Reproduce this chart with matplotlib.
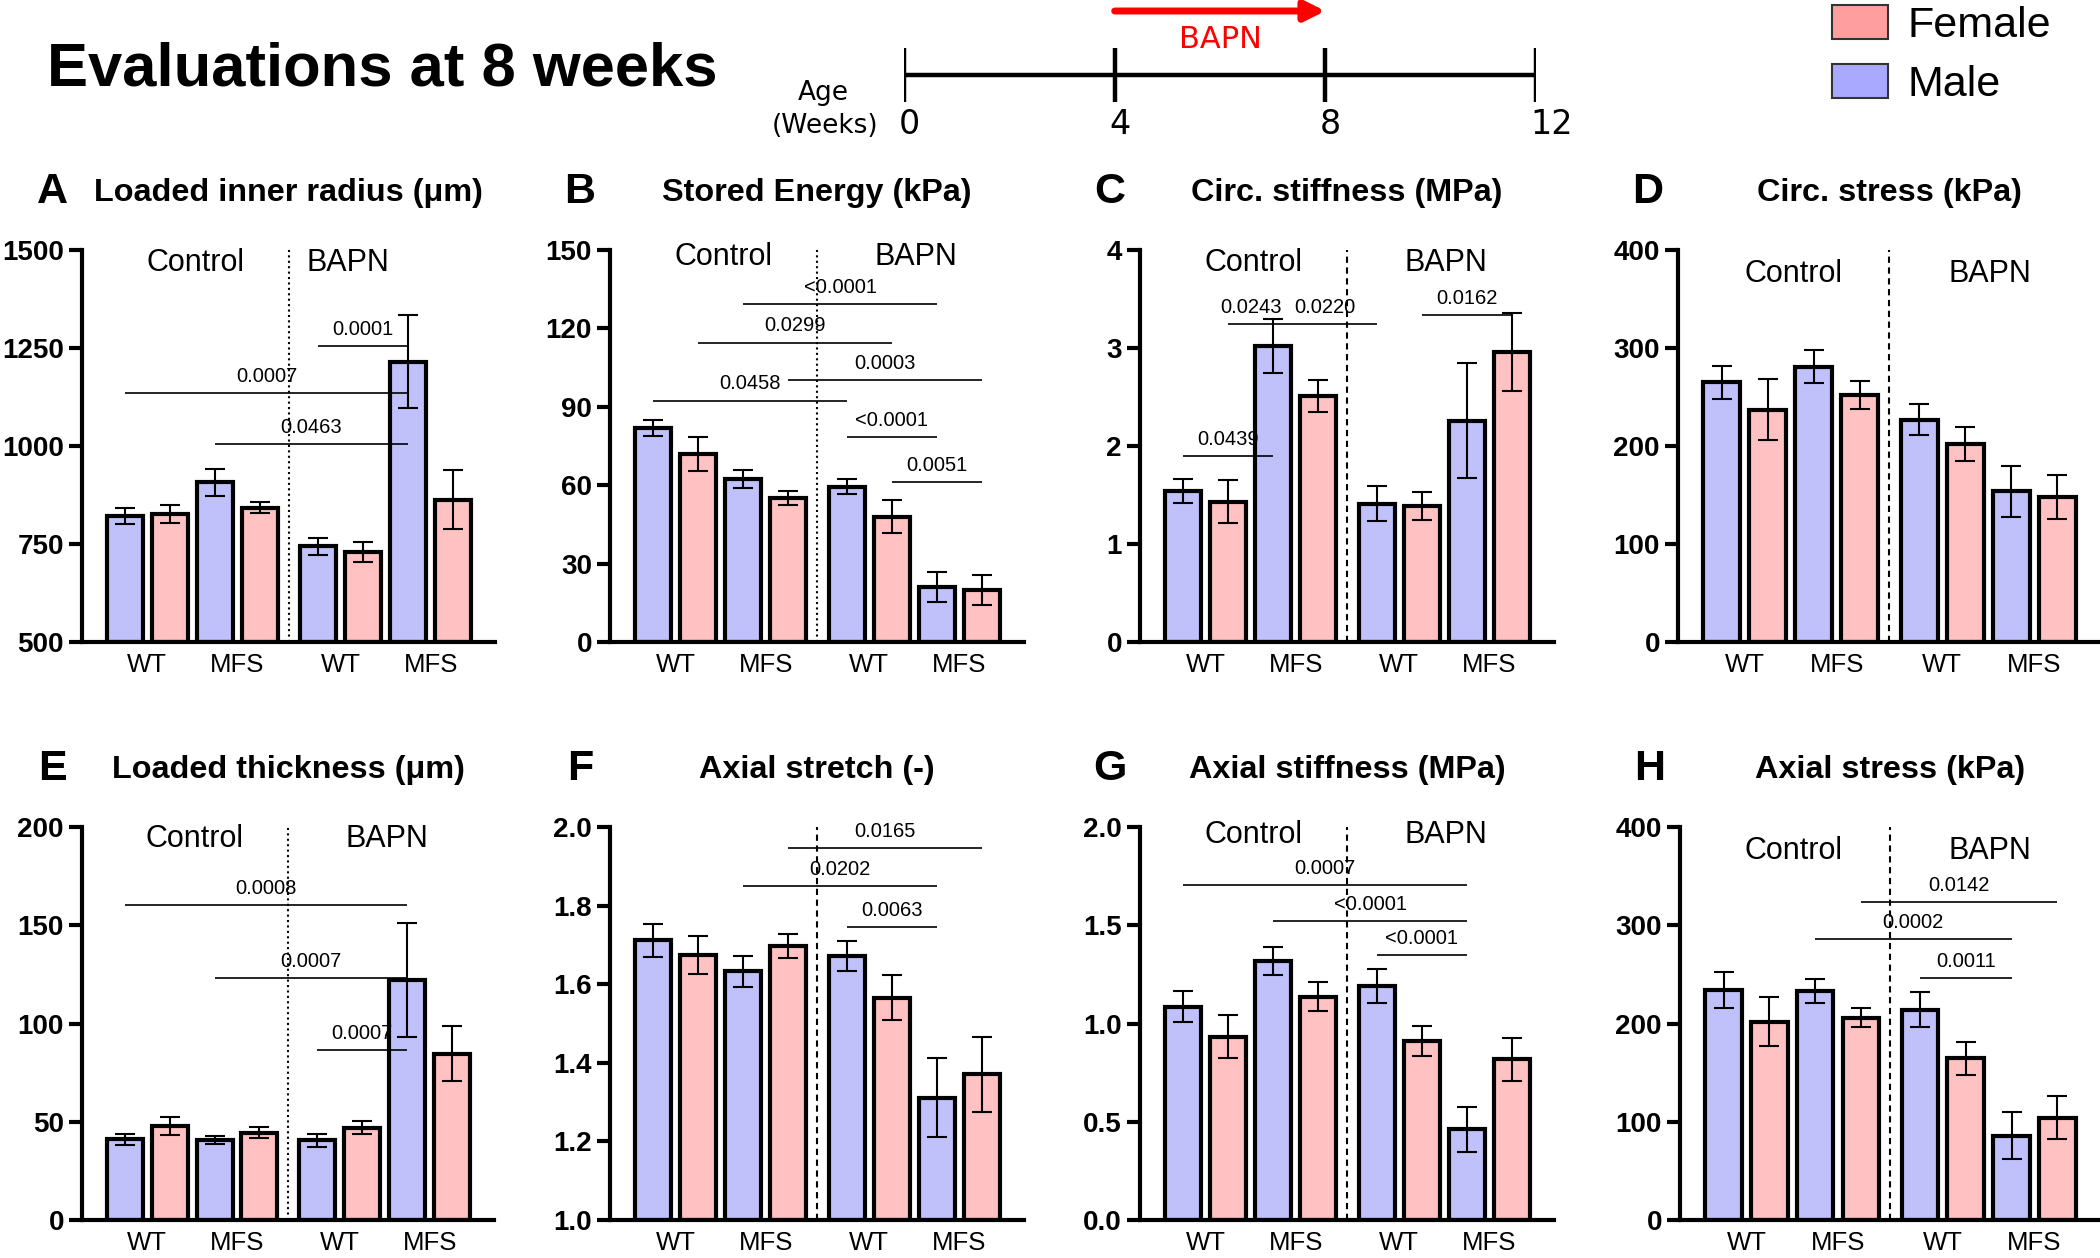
import numpy as np
import matplotlib
matplotlib.use('Agg')
import matplotlib.pyplot as plt
from matplotlib.patches import Patch
from matplotlib.ticker import FormatStrFormatter

plt.rcParams['font.family'] = ['Liberation Sans', 'DejaVu Sans']

# ---------------- data ----------------
bar_sex = ['Male', 'Female', 'Male', 'Female', 'Male', 'Female', 'Male', 'Female']
bar_genotype = ['WT', 'WT', 'MFS', 'MFS', 'WT', 'WT', 'MFS', 'MFS']
bar_treatment = ['Control'] * 4 + ['BAPN'] * 4
group_labels = ['WT', 'MFS', 'WT', 'MFS']
treatment_labels = ['Control', 'BAPN']

inner_radius_mean = [822, 826, 907, 843, 744, 729, 1215, 863]
inner_radius_sem = [20, 23, 35, 15, 22, 25, 118, 75]
inner_radius_sig = [(4, 6, 1254, '0.0001'), (0, 6, 1136, '0.0007'), (2, 6, 1006, '0.0463')]

stored_energy_mean = [82, 72, 62.5, 55, 59.5, 48, 21, 20]
stored_energy_sem = [3, 6.5, 3.5, 2.7, 2.7, 6.3, 5.8, 5.7]
stored_energy_sig = [(2, 6, 129.2, '<0.0001'), (1, 5, 114.6, '0.0299'), (3, 7, 100.2, '0.0003'),
                     (0, 4, 92.4, '0.0458'), (4, 6, 78.4, '<0.0001'), (5, 7, 61.2, '0.0051')]

circ_stiffness_mean = [1.54, 1.43, 3.02, 2.51, 1.41, 1.39, 2.26, 2.96]
circ_stiffness_sem = [0.12, 0.22, 0.28, 0.16, 0.18, 0.14, 0.59, 0.40]
circ_stiffness_sig = [(0, 2, 1.90, '0.0439'), (1, 2, 3.242, '0.0243'), (2, 4, 3.242, '0.0220'),
                      (5, 7, 3.337, '0.0162')]

circ_stress_mean = [265, 237, 281, 252, 227, 202, 154, 148]
circ_stress_sem = [17, 31, 17, 14, 16, 17, 26, 22]
circ_stress_sig = []

thickness_mean = [41, 48, 40.5, 44.5, 40.5, 47, 122, 84.5]
thickness_sem = [3, 4.5, 2, 2.8, 3.5, 3.4, 29, 14]
thickness_sig = [(0, 6, 160.1, '0.0008'), (2, 6, 123.1, '0.0007'), (4, 6, 86.6, '0.0007')]

axial_stretch_mean = [1.712, 1.674, 1.633, 1.697, 1.672, 1.566, 1.311, 1.371]
axial_stretch_sem = [0.042, 0.049, 0.040, 0.030, 0.038, 0.058, 0.100, 0.095]
axial_stretch_sig = [(3, 7, 1.947, '0.0165'), (2, 6, 1.849, '0.0202'), (4, 6, 1.746, '0.0063')]

axial_stiffness_mean = [1.085, 0.932, 1.317, 1.136, 1.19, 0.912, 0.461, 0.817]
axial_stiffness_sem = [0.078, 0.11, 0.07, 0.074, 0.085, 0.075, 0.115, 0.108]
axial_stiffness_sig = [(0, 6, 1.703, '0.0007'), (2, 6, 1.520, '<0.0001'), (4, 6, 1.347, '<0.0001')]

axial_stress_mean = [234, 202, 233, 206, 214, 164.5, 86, 104]
axial_stress_sem = [18, 25, 12.5, 10, 18, 16.5, 24, 22]
axial_stress_sig = [(3, 7, 323.7, '0.0142'), (2, 6, 286.4, '0.0002'), (4, 6, 246.4, '0.0011')]

timeline_weeks = [0, 4, 8, 12]
bapn_start, bapn_end = 4, 8

# ---------------- layout / style ----------------
W, H = 2100, 1258
fig = plt.figure(figsize=(W / 100, H / 100), dpi=100)

male_color = '#C0C0FB'
female_color = '#FFC1C1'
colors = [male_color if s == 'Male' else female_color for s in bar_sex]

gap = 0.29
positions = np.arange(8) + np.array([gap if t == 'BAPN' else 0 for t in bar_treatment])
group_centers = [(positions[2 * k] + positions[2 * k + 1]) / 2 for k in range(4)]
divider_x = (positions[3] + positions[4]) / 2

panels = [
    dict(letter='A', title='Loaded inner radius (μm)', mean=inner_radius_mean, sem=inner_radius_sem,
         sig=inner_radius_sig, ylim=(500, 1500), yticks=[500, 750, 1000, 1250, 1500], fmt='%d',
         box=(82, 495, 250, 642), div=':', lab=((0.274, 0.966), (0.643, 0.966))),
    dict(letter='B', title='Stored Energy (kPa)', mean=stored_energy_mean, sem=stored_energy_sem,
         sig=stored_energy_sig, ylim=(0, 150), yticks=[0, 30, 60, 90, 120, 150], fmt='%d',
         box=(610, 1024, 250, 642), div=':', lab=((0.274, 0.983), (0.738, 0.983))),
    dict(letter='C', title='Circ. stiffness (MPa)', mean=circ_stiffness_mean, sem=circ_stiffness_sem,
         sig=circ_stiffness_sig, ylim=(0, 4), yticks=[0, 1, 2, 3, 4], fmt='%d',
         box=(1140, 1554, 250, 642), div='--', lab=((0.274, 0.966), (0.738, 0.966))),
    dict(letter='D', title='Circ. stress (kPa)', mean=circ_stress_mean, sem=circ_stress_sem,
         sig=circ_stress_sig, ylim=(0, 400), yticks=[0, 100, 200, 300, 400], fmt='%d',
         box=(1678, 2100, 250, 642), div='--', lab=((0.274, 0.94), (0.739, 0.94))),
    dict(letter='E', title='Loaded thickness (μm)', mean=thickness_mean, sem=thickness_sem,
         sig=thickness_sig, ylim=(0, 200), yticks=[0, 50, 100, 150, 200], fmt='%d',
         box=(82, 494, 827, 1220), div=':', lab=((0.272, 0.969), (0.74, 0.969))),
    dict(letter='F', title='Axial stretch (-)', mean=axial_stretch_mean, sem=axial_stretch_sem,
         sig=axial_stretch_sig, ylim=(1.0, 2.0), yticks=[1.0, 1.2, 1.4, 1.6, 1.8, 2.0], fmt='%.1f',
         box=(610, 1024, 827, 1220), div='--', lab=None),
    dict(letter='G', title='Axial stiffness (MPa)', mean=axial_stiffness_mean, sem=axial_stiffness_sem,
         sig=axial_stiffness_sig, ylim=(0, 2.0), yticks=[0.0, 0.5, 1.0, 1.5, 2.0], fmt='%.1f',
         box=(1140, 1554, 827, 1220), div='--', lab=((0.274, 0.979), (0.738, 0.979))),
    dict(letter='H', title='Axial stress (kPa)', mean=axial_stress_mean, sem=axial_stress_sem,
         sig=axial_stress_sig, ylim=(0, 400), yticks=[0, 100, 200, 300, 400], fmt='%d',
         box=(1680, 2100, 827, 1220), div='--', lab=((0.271, 0.94), (0.738, 0.94))),
]

for p in panels:
    l, r, t, b = p['box']
    ax = fig.add_axes([l / W, 1 - b / H, (r - l) / W, (b - t) / H])
    y0 = p['ylim'][0]
    heights = np.array(p['mean']) - y0
    ax.bar(positions, heights, bottom=y0, width=0.8, color=colors, edgecolor='black',
           linewidth=3.0, zorder=2)
    ax.errorbar(positions, p['mean'], yerr=p['sem'], fmt='none', ecolor='black',
                elinewidth=1.5, capsize=7.5, capthick=1.5, zorder=3)
    for i, j, y, txt in p['sig']:
        ax.plot([positions[i], positions[j]], [y, y], color='black', lw=1.2, zorder=4,
                solid_capstyle='butt')
        ax.annotate(txt, xy=((positions[i] + positions[j]) / 2, y), xytext=(0, 8),
                    textcoords='offset points', ha='center', va='baseline', fontsize=14.5,
                    zorder=5)
    if p['div'] == ':':
        ls = (0, (1.0, 1.6))
    else:
        ls = (0, (3.0, 2.2))
    ax.axvline(divider_x, color='black', lw=1.5, linestyle=ls, zorder=6)
    if p['lab'] is not None:
        for (fx, fy), name in zip(p['lab'], treatment_labels):
            ax.text(fx, fy, name, transform=ax.transAxes, ha='center', va='center', fontsize=22)

    ax.set_xlim(-0.95, 8.22)
    ax.set_ylim(*p['ylim'])
    ax.set_yticks(p['yticks'])
    ax.yaxis.set_major_formatter(FormatStrFormatter(p['fmt']))
    ax.set_xticks(group_centers)
    ax.set_xticklabels(group_labels, fontsize=18.5)
    ax.tick_params(axis='x', length=0, pad=8)
    ax.tick_params(axis='y', length=9.5, width=3, labelsize=20, pad=3.5)
    for lbl in ax.get_yticklabels():
        lbl.set_fontweight('bold')
    for s in ['top', 'right']:
        ax.spines[s].set_visible(False)
    for s in ['left', 'bottom']:
        ax.spines[s].set_linewidth(3)
    ax.patch.set_alpha(0)

    # titles
    fig.text(((l + r) / 2) / W, 1 - (t - 57) / H, p['title'], ha='center', va='center',
             fontsize=23.3, fontweight='bold')
    fig.text((l - 30) / W, 1 - (t - 58) / H, p['letter'], ha='center', va='center',
             fontsize=31, fontweight='bold')

# main title
fig.text(47 / W, 1 - 70 / H, 'Evaluations at 8 weeks', ha='left', va='center',
         fontsize=44.3, fontweight='bold')

# timeline
axt = fig.add_axes([904 / W, 1 - 140 / H, 632 / W, 140 / H])
axt.set_xlim(0, 12)
axt.set_ylim(140, 0)
axt.axis('off')
axt.hlines(75, timeline_weeks[0], timeline_weeks[-1], color='black', lw=3.2)
for w in timeline_weeks:
    axt.vlines(w, 48, 102, color='black', lw=3.2)
    axt.annotate(str(w), xy=(w, 125), xytext=(-4, 0), textcoords='offset points',
                 ha='left', va='center', fontsize=24, family='DejaVu Sans')
axt.annotate('', xy=(bapn_end, 11), xytext=(bapn_start, 11),
             arrowprops=dict(arrowstyle='-|>', color='red', lw=5, mutation_scale=30,
                             shrinkA=0, shrinkB=0))
axt.text((bapn_start + bapn_end) / 2, 39, 'BAPN', color='red', ha='center', va='center',
         fontsize=22, family='DejaVu Sans')
fig.text(823 / W, 1 - 93 / H, 'Age', ha='center', va='center', fontsize=19, family='DejaVu Sans')
fig.text(825 / W, 1 - 126 / H, '(Weeks)', ha='center', va='center', fontsize=19,
         family='DejaVu Sans')

# legend
handles = [Patch(facecolor='#FF9E9E', edgecolor='#333333', linewidth=1.5, label='Female'),
           Patch(facecolor='#A9A9FF', edgecolor='#333333', linewidth=1.5, label='Male')]
fig.legend(handles=handles, loc='upper left', bbox_to_anchor=(1832 / W, 1.0 - 5 / H),
           frameon=False, fontsize=31, handlelength=1.3, handleheight=0.85,
           handletextpad=0.45, labelspacing=0.42, borderpad=0, borderaxespad=0)

fig.savefig('out.png', dpi=100)
